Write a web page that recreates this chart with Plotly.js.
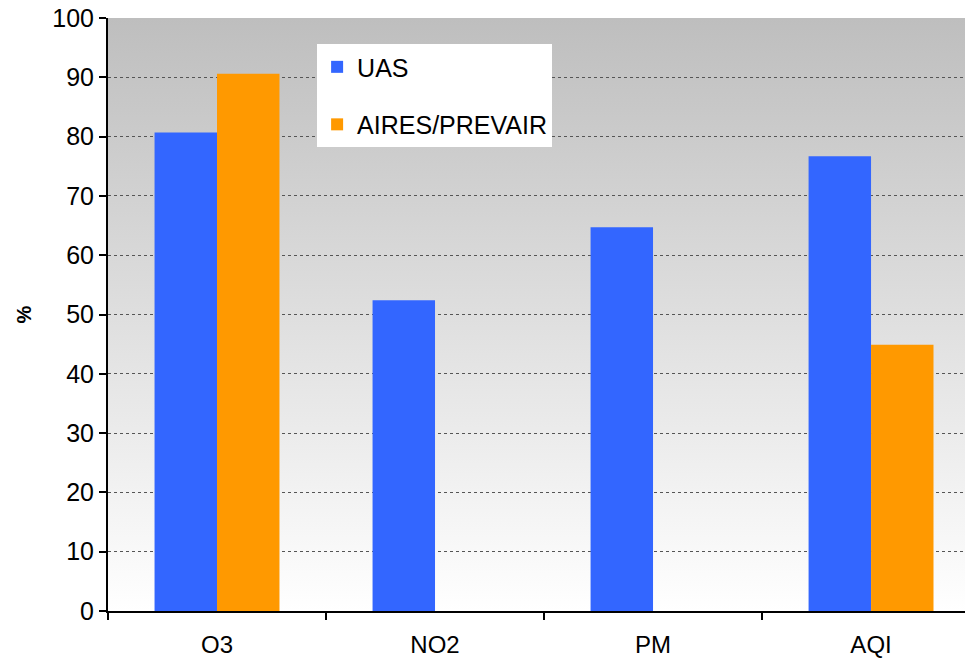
<!DOCTYPE html>
<html>
<head>
<meta charset="utf-8">
<script src="https://cdn.plot.ly/plotly-3.0.1.min.js"></script>
<style>html,body{margin:0;padding:0;background:#fff;}#chart{width:965px;height:662px;}</style>
</head>
<body>
<div id="chart"></div>
<script>
const categories = ["O3", "NO2", "PM", "AQI"];
const uasValues = [80.7, 52.4, 64.7, 76.7];
const airesValues = [90.6, null, null, 44.9];
const seriesNames = ["UAS", "AIRES/PREVAIR"];
const yTicks = [0, 10, 20, 30, 40, 50, 60, 70, 80, 90, 100];

const svg = "<svg xmlns='http://www.w3.org/2000/svg' width='100' height='100' preserveAspectRatio='none'>" +
  "<defs><linearGradient id='g' x1='0' y1='0' x2='0' y2='1'>" +
  "<stop offset='0' stop-color='#BEBEBE'/><stop offset='1' stop-color='#FFFFFF'/>" +
  "</linearGradient></defs><rect width='100' height='100' fill='url(#g)'/></svg>";
const bgUri = "data:image/svg+xml;charset=utf-8," + encodeURIComponent(svg);

const font = {family: "Liberation Sans, Arial, sans-serif", color: "#000"};

const traces = [
  {type: "bar", x: categories, y: uasValues, name: seriesNames[0],
   marker: {color: "#3366FF", line: {width: 0}}, legendgroup: "a"},
  {type: "bar", x: categories, y: airesValues, name: seriesNames[1],
   marker: {color: "#FF9900", line: {width: 0}}, legendgroup: "b"}
];

const layout = {
  width: 965, height: 662,
  margin: {l: 108, r: 0, t: 18, b: 51, pad: 0},
  paper_bgcolor: "#FFFFFF",
  plot_bgcolor: "rgba(0,0,0,0)",
  barmode: "group",
  bargap: 0.427,
  bargroupgap: 0,
  font: Object.assign({size: 25}, font),
  showlegend: true,
  legend: {
    x: 0.244, y: 0.956, xanchor: "left", yanchor: "top",
    bgcolor: "#FFFFFF", borderwidth: 0,
    font: Object.assign({size: 25}, font),
    traceorder: "grouped", tracegroupgap: 22,
    itemwidth: 30
  },
  xaxis: {
    type: "category",
    range: [-0.5, 3.431],
    showgrid: false,
    showline: true, linecolor: "#000", linewidth: 2,
    ticks: "outside", tickson: "boundaries", ticklen: 7, tickwidth: 2, tickcolor: "#000",
    ticklabelstandoff: 11,
    tickfont: Object.assign({size: 24}, font),
    zeroline: false, fixedrange: true, automargin: false
  },
  yaxis: {
    range: [0, 100],
    tickvals: yTicks,
    ticktext: yTicks.map(String),
    showgrid: true, gridcolor: "#555555", gridwidth: 1, griddash: "dot",
    showline: true, linecolor: "#000", linewidth: 2,
    ticks: "outside", ticklen: 7, tickwidth: 2, tickcolor: "#000",
    tickfont: Object.assign({size: 25}, font),
    zeroline: false, automargin: false,
    title: {text: "<b>%</b>", font: Object.assign({size: 20}, font), standoff: 15}
  },
  images: [{
    source: bgUri, xref: "paper", yref: "paper", x: 0, y: 1,
    sizex: 1, sizey: 1, sizing: "stretch", xanchor: "left", yanchor: "top",
    layer: "below"
  }]
};

Plotly.newPlot("chart", traces, layout, {displayModeBar: false, staticPlot: true});
</script>
</body>
</html>
